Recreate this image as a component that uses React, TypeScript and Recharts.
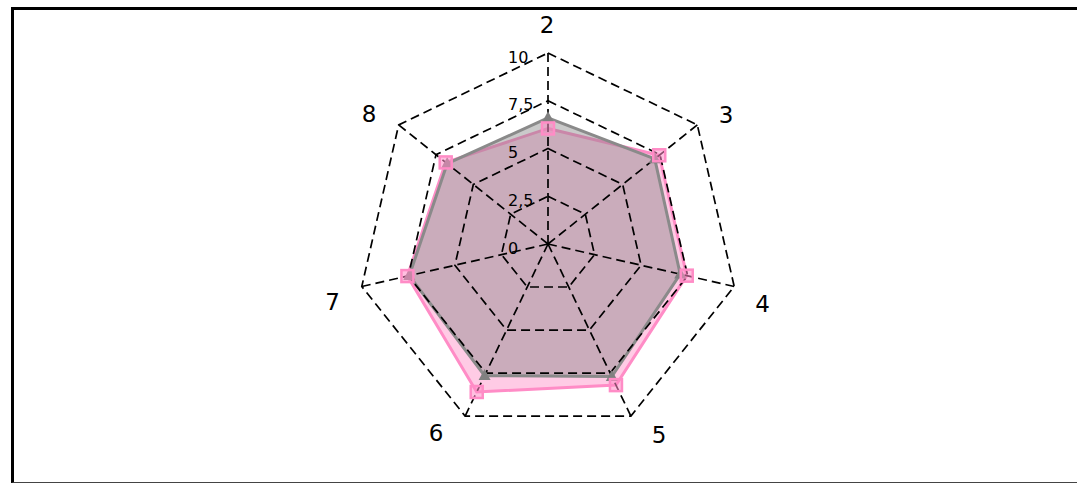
import React from 'react';
import { RadarChart, Radar, PolarGrid, PolarAngleAxis, PolarRadiusAxis } from 'recharts';

const categories = ['2', '3', '4', '5', '6', '7', '8'];
const pinkValues = [6.05, 7.45, 7.45, 8.2, 8.6, 7.55, 6.85];
const grayValues = [6.6, 7.15, 7.1, 7.7, 7.65, 7.45, 6.75];
const radiusTicks = [0, 2.5, 5, 7.5, 10];
const radiusTickLabels = ['0', '2,5', '5', '7,5', '10'];

const data = categories.map((c, i) => ({ axis: c, pink: pinkValues[i], gray: grayValues[i] }));

const FONT = 'DejaVu Sans, sans-serif';
const PINK = '#ff8cc6';
const GRAY = '#8a8a8a';

const labelNudges: [number, number][] = [
  [-1, 1], [6, 8], [0, 11], [15.5, -7.5], [-16.5, -9], [-1, 9], [-7, 7],
];

const AngleTick = (props: any) => {
  const { cx, cy, payload, index } = props;
  const rad = (payload.coordinate * Math.PI) / 180;
  const r = 220;
  const n = labelNudges[index] || [0, 0];
  const x = cx + r * Math.cos(rad) + n[0];
  const y = cy - r * Math.sin(rad) + n[1];
  return (
    <text x={x} y={y} textAnchor="middle" dominantBaseline="central" fontFamily={FONT} fontSize={23} fill="#000">
      {payload.value}
    </text>
  );
};

const RadiusTick = (props: any) => {
  const { x, y, payload } = props;
  const idx = radiusTicks.indexOf(payload.value);
  const label = idx >= 0 ? radiusTickLabels[idx] : String(payload.value);
  return (
    <text x={x - 40} y={y + 4} textAnchor="start" dominantBaseline="central" fontFamily={FONT} fontSize={16} fill="#000">
      {label}
    </text>
  );
};

const SquareDot = (props: any) => {
  const { cx, cy } = props;
  if (cx == null || cy == null) return null;
  const s = 12;
  return (
    <rect x={cx - s / 2} y={cy - s / 2} width={s} height={s} fill={PINK} fillOpacity={0.55} stroke={PINK} strokeWidth={2.5} />
  );
};

const TriDot = (props: any) => {
  const { cx, cy } = props;
  if (cx == null || cy == null) return null;
  const h = 11;
  const w = 12;
  return (
    <polygon
      points={`${cx},${cy - h * 0.6} ${cx - w / 2},${cy + h * 0.4} ${cx + w / 2},${cy + h * 0.4}`}
      fill="#808080"
    />
  );
};

const chartProps = {
  width: 1077,
  height: 483,
  data,
  cx: 548,
  cy: 244,
  outerRadius: 191,
  margin: { top: 0, right: 0, bottom: 0, left: 0 },
};

export default function App() {
  return (
    <div style={{ position: 'fixed', left: 0, top: 0, width: 1077, height: 483, overflow: 'hidden', background: '#fff' }}>
      <div
        style={{
          position: 'absolute',
          left: 11,
          top: 7,
          width: 1100,
          height: 476,
          borderLeft: '3px solid #000',
          borderTop: '3px solid #000',
          borderBottom: '1px solid #444',
          boxSizing: 'border-box',
        }}
      />
      <div style={{ position: 'absolute', left: 0, top: 0 }}>
        <RadarChart {...chartProps}>
          <PolarRadiusAxis angle={90} domain={[0, 10]} ticks={radiusTicks as any} tick={false} axisLine={false} tickLine={false} />
          <PolarAngleAxis dataKey="axis" tick={false} axisLine={false} tickLine={false} />
          <Radar
            dataKey="pink"
            stroke={PINK}
            strokeWidth={3}
            fill={PINK}
            fillOpacity={0.45}
            dot={false}
            isAnimationActive={false}
          />
          <Radar
            dataKey="gray"
            stroke={GRAY}
            strokeWidth={3}
            fill="#808080"
            fillOpacity={0.42}
            dot={false}
            isAnimationActive={false}
          />
        </RadarChart>
      </div>
      <div style={{ position: 'absolute', left: 0, top: 0 }}>
        <RadarChart {...chartProps}>
          <PolarGrid gridType="polygon" stroke="#000" strokeWidth={1.7} strokeDasharray="9 5" strokeOpacity={1} />
          <PolarAngleAxis dataKey="axis" tick={<AngleTick />} axisLine={false} tickLine={false} />
          <PolarRadiusAxis
            angle={90}
            domain={[0, 10]}
            ticks={radiusTicks as any}
            tickCount={5}
            axisLine={false}
            tickLine={false}
            tick={<RadiusTick />}
          />
          <Radar
            dataKey="gray"
            stroke="none"
            fill="none"
            fillOpacity={0}
            dot={<TriDot />}
            isAnimationActive={false}
          />
          <Radar
            dataKey="pink"
            stroke="none"
            fill="none"
            fillOpacity={0}
            dot={<SquareDot />}
            isAnimationActive={false}
          />
        </RadarChart>
      </div>
    </div>
  );
}
